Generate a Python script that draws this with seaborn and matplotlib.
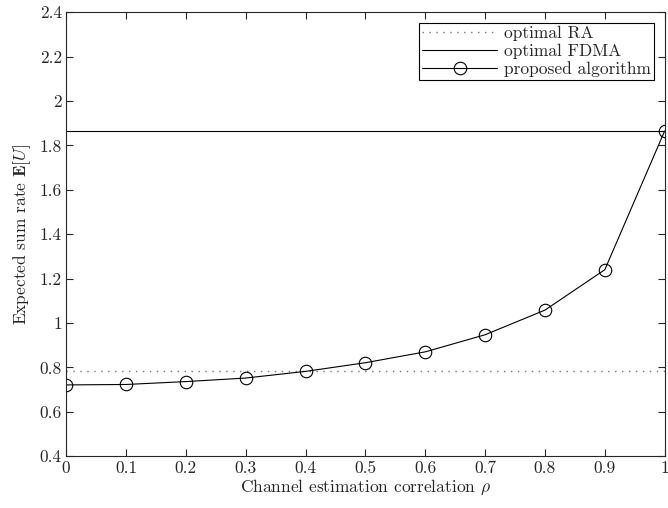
import matplotlib
matplotlib.use("Agg")
import matplotlib.pyplot as plt
import seaborn as sns
import pandas as pd

rho = [0.0, 0.1, 0.2, 0.3, 0.4, 0.5, 0.6, 0.7, 0.8, 0.9, 1.0]
proposed = [0.721, 0.723, 0.736, 0.752, 0.782, 0.821, 0.870, 0.947, 1.058, 1.240, 1.865]
optimal_ra = 0.782
optimal_fdma = 1.866

sns.set_style("ticks")
plt.rcParams['font.family'] = 'serif'
plt.rcParams['font.serif'] = ['cmr10', 'DejaVu Serif']
plt.rcParams['mathtext.fontset'] = 'cm'
plt.rcParams['axes.formatter.use_mathtext'] = True
plt.rcParams['font.size'] = 12.5

fig = plt.figure(figsize=(6.68, 5.08), dpi=100)
ax = fig.add_axes([0.099, 0.102, 0.896, 0.874])

data = pd.DataFrame({"rho": rho, "rate": proposed})

ax.axhline(optimal_ra, color="0.45", ls=(0, (1, 4)), lw=1.0, label="optimal RA")
ax.axhline(optimal_fdma, color="black", ls="-", lw=0.8, label="optimal FDMA")
sns.lineplot(data=data, x="rho", y="rate", ax=ax, color="black", lw=0.8,
             marker="o", markersize=9, markerfacecolor="none",
             markeredgecolor="black", markeredgewidth=0.8,
             label="proposed algorithm")

ax.set_xlim(0, 1)
ax.set_ylim(0.4, 2.4)
ax.set_xticks([i / 10 for i in range(11)])
ax.set_xticklabels(["0", "0.1", "0.2", "0.3", "0.4", "0.5", "0.6", "0.7", "0.8", "0.9", "1"])
ax.set_yticks([0.4 + 0.2 * i for i in range(11)])
ax.set_yticklabels(["0.4", "0.6", "0.8", "1", "1.2", "1.4", "1.6", "1.8", "2", "2.2", "2.4"])
ax.tick_params(direction="in", top=True, right=True, length=5, width=0.8, pad=3)
for s in ax.spines.values():
    s.set_linewidth(0.8)

ax.set_xlabel(r"Channel estimation correlation $\rho$", labelpad=1)
ax.set_ylabel(r"Expected sum rate $\mathbf{E}[U]$", labelpad=5)

leg = ax.legend(loc="upper right", frameon=True, fancybox=False, edgecolor="black",
                framealpha=1, borderaxespad=0.6, handlelength=4.3,
                borderpad=0.2, labelspacing=0.12, handletextpad=0.4)
leg.get_frame().set_linewidth(0.8)

fig.savefig("out.png", dpi=100)
